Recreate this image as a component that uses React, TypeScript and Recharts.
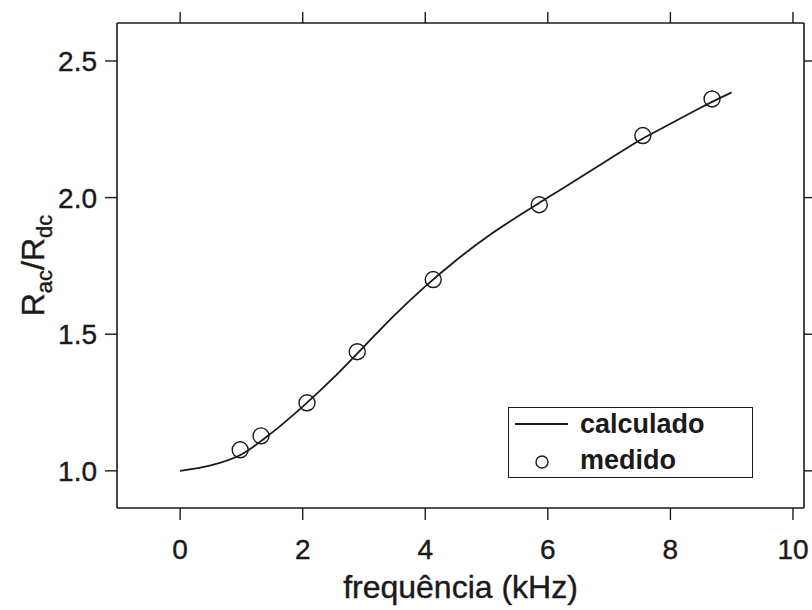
import React from "react";
import { ComposedChart, Line, Scatter, XAxis, YAxis, Legend } from "recharts";

// curva calculada (kHz -> Rac/Rdc)
const calcFreq = [0, 0.5, 1, 1.5, 2, 2.5, 3, 3.5, 4, 4.5, 5, 5.5, 6, 6.5, 7, 7.5, 8, 8.5, 9];
const calcRatio = [1.0, 1.02, 1.06, 1.14, 1.235, 1.34, 1.455, 1.57, 1.675, 1.77, 1.855, 1.93, 2.0, 2.07, 2.14, 2.21, 2.27, 2.33, 2.385];

// pontos medidos
const medFreq = [0.98, 1.32, 2.07, 2.89, 4.13, 5.86, 7.55, 8.68];
const medRatio = [1.077, 1.128, 1.249, 1.436, 1.7, 1.974, 2.227, 2.361];

const xTicks = [0, 2, 4, 6, 8, 10];
const yTicks = [1.0, 1.5, 2.0, 2.5];

const calcData = calcFreq.map((x, i) => ({ x, y: calcRatio[i] }));
const medData = medFreq.map((x, i) => ({ x, y: medRatio[i] }));

const FONT = "'Liberation Sans', Arial, Helvetica, sans-serif";
const INK = "#1a1a1a";
const xDomain = [-1.03, 10.18];
const yDomain = [0.864, 2.639];

const blank = () => "";

const tickStyle = { fontSize: 28, fill: INK, fontFamily: FONT, stroke: INK, strokeWidth: 0.4 };

function YLabel(props: any) {
  const vb = props.viewBox || { x: 0, y: 0, width: 117, height: 485 };
  const cx = vb.x + 44;
  const cy = vb.y + vb.height / 2;
  return (
    <text
      x={cx}
      y={cy}
      transform={`rotate(-90, ${cx}, ${cy})`}
      textAnchor="middle"
      fontFamily={FONT}
      fontSize={32}
      fill={INK}
      stroke={INK}
      strokeWidth={0.4}
    >
      <tspan>R</tspan>
      <tspan fontSize={22} dy={8}>ac</tspan>
      <tspan dy={-8}>/R</tspan>
      <tspan fontSize={22} dy={8}>dc</tspan>
    </text>
  );
}

function LegendBox() {
  return (
    <div
      style={{
        position: "relative",
        width: 245,
        height: 71,
        border: `1.5px solid ${INK}`,
        boxSizing: "border-box",
        background: "#fff",
        fontFamily: FONT,
        fontWeight: "bold",
        fontSize: 27,
        color: INK,
      }}
    >
      <svg width={245} height={71} style={{ position: "absolute", left: 0, top: 0 }}>
        <line x1={6} y1={16} x2={59} y2={16} stroke={INK} strokeWidth={2} />
        <circle cx={33} cy={54} r={6} fill="none" stroke={INK} strokeWidth={1.4} />
      </svg>
      <span style={{ position: "absolute", left: 71, top: 0, lineHeight: "33px" }}>calculado</span>
      <span style={{ position: "absolute", left: 71, top: 36, lineHeight: "33px" }}>medido</span>
    </div>
  );
}

export default function App() {
  return (
    <div style={{ position: "absolute", left: 0, top: 0, width: 812, height: 610, background: "#fff" }}>
      <ComposedChart
        width={812}
        height={610}
        margin={{ top: 0, right: 0, bottom: 0, left: 0 }}
        style={{ fontFamily: FONT }}
      >
        <XAxis
          xAxisId="b"
          dataKey="x"
          type="number"
          domain={xDomain}
          ticks={xTicks}
          allowDataOverflow
          height={102}
          tickSize={12}
          tickMargin={19}
          axisLine={{ stroke: INK, strokeWidth: 1.6 }}
          tickLine={{ stroke: INK, strokeWidth: 1.4 }}
          tick={tickStyle}
          label={{
            value: "frequência (kHz)",
            position: "insideBottom",
            offset: 12,
            fontSize: 32,
            fill: INK,
            fontFamily: FONT,
            stroke: INK,
            strokeWidth: 0.4,
          }}
        />
        <XAxis
          xAxisId="t"
          orientation="top"
          dataKey="x"
          type="number"
          domain={xDomain}
          ticks={xTicks}
          allowDataOverflow
          height={23}
          tickSize={11}
          tickFormatter={blank}
          axisLine={{ stroke: INK, strokeWidth: 1.6 }}
          tickLine={{ stroke: INK, strokeWidth: 1.4 }}
        />
        <YAxis
          yAxisId="l"
          dataKey="y"
          type="number"
          domain={yDomain}
          ticks={yTicks}
          allowDataOverflow
          width={117}
          tickSize={12}
          tickMargin={8}
          tickFormatter={(v: number) => v.toFixed(1)}
          axisLine={{ stroke: INK, strokeWidth: 1.6 }}
          tickLine={{ stroke: INK, strokeWidth: 1.4 }}
          tick={tickStyle}
          label={YLabel}
        />
        <YAxis
          yAxisId="r"
          orientation="right"
          dataKey="y"
          type="number"
          domain={yDomain}
          ticks={yTicks}
          allowDataOverflow
          width={8}
          tickSize={8}
          tickFormatter={blank}
          axisLine={{ stroke: INK, strokeWidth: 1.6 }}
          tickLine={{ stroke: INK, strokeWidth: 1.4 }}
        />
        <Legend
          layout="vertical"
          align="center"
          verticalAlign="middle"
          content={LegendBox}
          wrapperStyle={{ position: "absolute", left: 508, top: 407, width: 245, height: 71 }}
        />
        <Line
          xAxisId="b"
          yAxisId="l"
          data={calcData}
          dataKey="y"
          name="calculado"
          type="monotone"
          stroke={INK}
          strokeWidth={1.8}
          dot={false}
          isAnimationActive={false}
        />
        <Scatter
          xAxisId="b"
          yAxisId="l"
          data={medData}
          dataKey="y"
          name="medido"
          isAnimationActive={false}
          shape={(p: any) => <circle cx={p.cx} cy={p.cy} r={8} fill="none" stroke={INK} strokeWidth={1.4} />}
        />
        <Line
          xAxisId="t"
          yAxisId="r"
          data={calcData}
          dataKey="y"
          stroke="none"
          dot={false}
          legendType="none"
          isAnimationActive={false}
        />
      </ComposedChart>
    </div>
  );
}
